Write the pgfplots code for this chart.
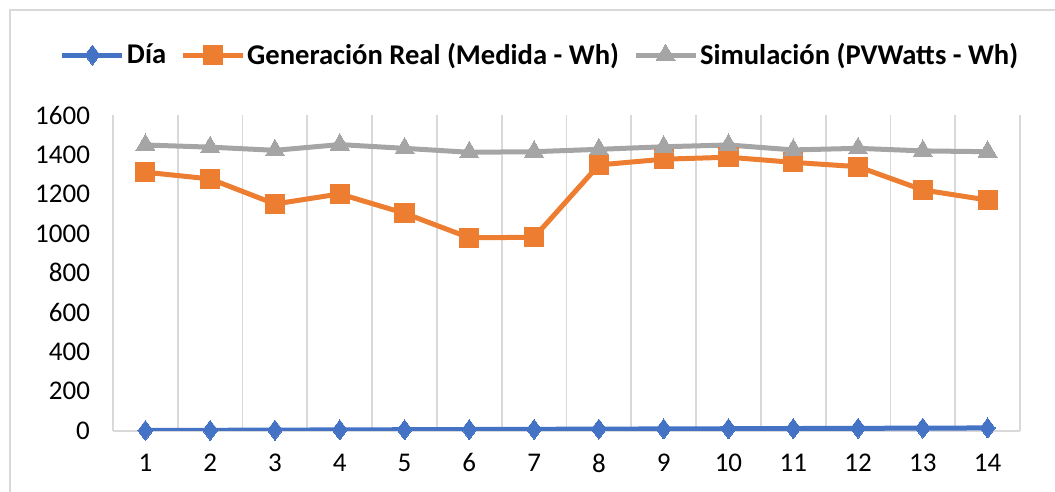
\documentclass[border=0pt]{standalone}
\usepackage{pgfplots}
\pgfplotsset{compat=1.18}
\usepackage{fontspec}
\setmainfont{Carlito}
\definecolor{cblue}{HTML}{4472C4}
\definecolor{corange}{HTML}{ED7D31}
\definecolor{cgray}{HTML}{A5A5A5}
\definecolor{cgrid}{HTML}{D9D9D9}
\begin{document}
\begin{tikzpicture}
\useasboundingbox (0,0) rectangle (527.5pt,246pt);
\draw[cgrid, line width=0.8pt] (5pt,0) -- (5pt,241pt) -- (527.5pt,241pt);
\begin{axis}[
  at={(56.5pt,30.65pt)}, anchor=south west,
  width=453.5pt, height=157.85pt, scale only axis,
  xmin=0.5, xmax=14.5, ymin=0, ymax=1600,
  xtick={1,...,14}, ytick={0,200,...,1600},
  minor xtick={0.5,1.5,...,14.5},
  xminorgrids, minor x grid style={cgrid, line width=0.9pt},
  major tick length=0, minor tick length=0,
  axis x line*=bottom, axis y line*=left,
  x axis line style={cgrid, line width=0.9pt, -},
  y axis line style={draw=none},
  tick label style={font=\fontsize{13.5}{14}\selectfont, text=black},
  /pgf/number format/assume math mode=true,
  /pgf/number format/1000 sep={},
  xticklabel style={yshift=-8pt},
  yticklabel style={xshift=-8pt},
  legend columns=3,
  legend style={draw=none, fill=none, at={(0.472,1.19)}, anchor=center,
    font=\fontsize{14.3}{15}\selectfont\bfseries, /tikz/every even column/.append style={column sep=5pt},
    /tikz/every odd column/.append style={column sep=-1pt}},
  legend image code/.code={\draw[#1] (0pt,0pt) -- (30pt,0pt); \draw[#1, mark repeat=1] plot coordinates {(15pt,0pt)};},
  every axis plot/.append style={line width=2.5pt},
]
\addplot[cblue, mark=diamond*, mark size=5pt, mark options={line width=0pt}] coordinates {
(1,1)(2,2)(3,3)(4,4)(5,5)(6,6)(7,7)(8,8)(9,9)(10,10)(11,11)(12,12)(13,13)(14,14)};
\addlegendentry{Día}
\addplot[corange, mark=square*, mark size=4.8pt, mark options={line width=0pt}] coordinates {
(1,1310)(2,1276)(3,1149)(4,1200)(5,1102)(6,978)(7,980)(8,1347)(9,1376)(10,1386)(11,1360)(12,1338)(13,1220)(14,1169)};
\addlegendentry{Generación Real (Medida - Wh)}
\addplot[cgray, mark=triangle*, mark size=5.5pt, mark options={line width=0pt}] coordinates {
(1,1448)(2,1437)(3,1421)(4,1450)(5,1431)(6,1411)(7,1414)(8,1426)(9,1439)(10,1448)(11,1423)(12,1431)(13,1418)(14,1414)};
\addlegendentry{Simulación (PVWatts - Wh)}
\end{axis}
\end{tikzpicture}
\end{document}
